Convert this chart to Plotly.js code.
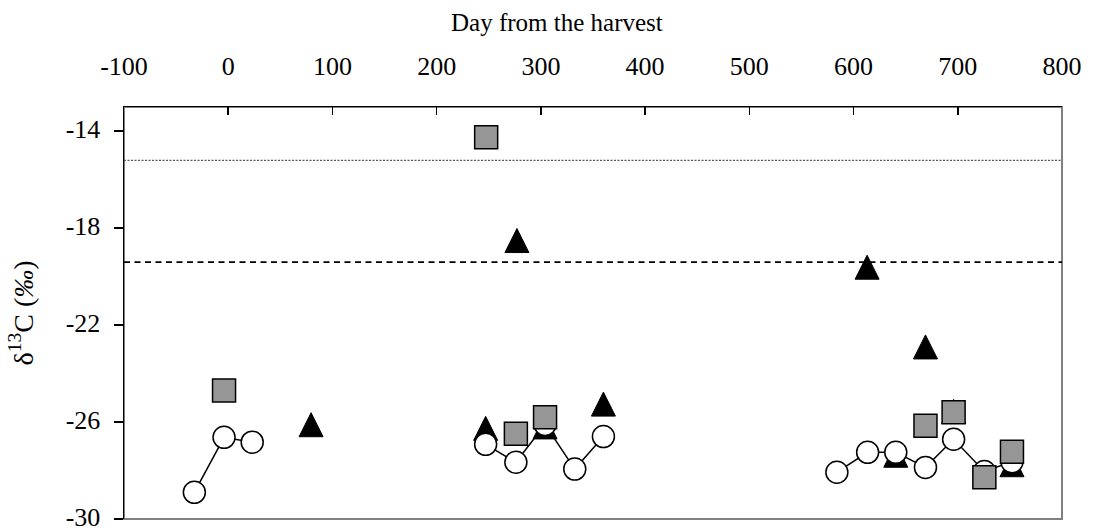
<!DOCTYPE html>
<html>
<head>
<meta charset="utf-8">
<script src="https://cdn.plot.ly/plotly-3.0.1.min.js"></script>
<style>
  html, body { margin: 0; padding: 0; background: #ffffff; }
  #chart { width: 1095px; height: 531px; }
</style>
</head>
<body>
<div id="chart"></div>
<script>
// ---- data ----
// open circles, connected within each sampling campaign (null = break)
var circleDays  = [-32.5, -4, 23, null, 247, 276, 304, 332.5, 360, null, 584, 613.5, 640.5, 669, 696, 725.5, 752];
var circleD13C  = [-28.9, -26.63, -26.83, null, -26.92, -27.66, -26.1, -27.94, -26.6, null, -28.07, -27.25, -27.25, -27.87, -26.71, -28.04, -27.64];

// grey squares
var squareDays  = [-4, 247.5, 276, 304, 669, 696, 725.5, 752];
var squareD13C  = [-24.7, -14.25, -26.48, -25.8, -26.15, -25.6, -28.28, -27.22];

// black triangles
var triangleDays = [79.5, 247, 277, 304, 360, 613, 640.5, 669, 696, 752];
var triangleD13C = [-26.11, -26.26, -18.51, -26.2, -25.26, -19.61, -27.37, -22.9, -25.56, -27.76];

// horizontal reference levels
var dottedLevel = -15.2;
var dashedLevel = -19.4;

// axis ticks
var xTickVals = [-100, 0, 100, 200, 300, 400, 500, 600, 700, 800];
var xTickText = ['-100', '0', '100', '200', '300', '400', '500', '600', '700', '800'];
var yTickVals = [-30, -26, -22, -18, -14];
var yTickText = ['-30', '-26', '-22', '-18', '-14'];

// ---- layout constants ----
var W = 1095, H = 531;
var M = {l: 124, r: 33, t: 107, b: 12};
var yRange = [-30, -13];
var triSize = 24;                    // px, arrow-up is triSize wide and tall, apex at the data point
var plotH = H - M.t - M.b;
var triShift = (triSize / 2) * (yRange[1] - yRange[0]) / plotH;  // move apex up so the centre sits on the value

var FONT = 'Liberation Serif, Times New Roman, serif';

var traces = [
  {
    type: 'scatter', mode: 'markers', name: 'triangles',
    x: triangleDays, y: triangleD13C, xaxis: 'x', yaxis: 'y',
    marker: {symbol: 'arrow-up', size: triSize, color: '#000000', line: {color: '#000000', width: 1}},
    showlegend: false, cliponaxis: false
  },
  {
    type: 'scatter', mode: 'lines+markers', name: 'circles',
    x: circleDays, y: circleD13C, xaxis: 'x', yaxis: 'y2',
    connectgaps: false,
    line: {color: '#000000', width: 1.5},
    marker: {symbol: 'circle', size: 22, color: '#ffffff', line: {color: '#000000', width: 1.5}},
    showlegend: false, cliponaxis: false
  },
  {
    type: 'scatter', mode: 'markers', name: 'squares',
    x: squareDays, y: squareD13C, xaxis: 'x', yaxis: 'y2',
    marker: {symbol: 'square', size: 23, color: '#969696', line: {color: '#000000', width: 1.5}},
    showlegend: false, cliponaxis: false
  }
];

var layout = {
  width: W, height: H,
  margin: M,
  paper_bgcolor: '#ffffff',
  plot_bgcolor: '#ffffff',
  font: {family: FONT, color: '#000000', size: 26},
  showlegend: false,
  xaxis: {
    side: 'top',
    range: [-100, 800],
    tickmode: 'array', tickvals: xTickVals, ticktext: xTickText,
    ticks: 'inside', ticklen: 8, tickwidth: 1.5, tickcolor: '#000000',
    ticklabelstandoff: 20,
    ticklabeloverflow: 'allow',
    tickfont: {family: FONT, size: 26, color: '#000000'},
    showline: true, linecolor: '#000000', linewidth: 1.5,
    showgrid: false, zeroline: false, fixedrange: true
  },
  yaxis: {
    range: [yRange[0] - triShift, yRange[1] - triShift],
    visible: false, showgrid: false, zeroline: false, fixedrange: true
  },
  yaxis2: {
    overlaying: 'y', side: 'left',
    range: yRange,
    tickmode: 'array', tickvals: yTickVals, ticktext: yTickText,
    ticks: 'outside', ticklen: 9, tickwidth: 1.5, tickcolor: '#000000',
    ticklabelstandoff: 8,
    ticklabelshift: -2,
    ticklabeloverflow: 'allow',
    tickfont: {family: FONT, size: 26, color: '#000000'},
    showline: true, linecolor: '#000000', linewidth: 1.5,
    showgrid: false, zeroline: false, fixedrange: true,
    title: {text: 'δ<sup>13</sup>C (<i>‰</i>)', font: {family: FONT, size: 28, color: '#000000'}, standoff: 24}
  },
  annotations: [
    {
      text: 'Day from the harvest', xref: 'paper', yref: 'paper',
      x: (557 - M.l) / (W - M.l - M.r), y: 1, yshift: 85,
      xanchor: 'center', yanchor: 'middle', showarrow: false,
      font: {family: FONT, size: 25, color: '#000000'}
    }
  ],
  shapes: [
    {type: 'rect', xref: 'paper', yref: 'paper', x0: 0, x1: 1, y0: 0, y1: 1,
     line: {color: '#808080', width: 2}, layer: 'below'},
    {type: 'line', xref: 'paper', yref: 'y2', x0: 0, x1: 1, y0: dottedLevel, y1: dottedLevel,
     line: {color: '#555555', width: 1.2, dash: '2px,1.5px'}, layer: 'below'},
    {type: 'line', xref: 'paper', yref: 'y2', x0: 0, x1: 1, y0: dashedLevel, y1: dashedLevel,
     line: {color: '#000000', width: 1.8, dash: '6px,4.5px'}, layer: 'below'}
  ]
};

Plotly.newPlot('chart', traces, layout, {staticPlot: true, displayModeBar: false});
</script>
</body>
</html>
